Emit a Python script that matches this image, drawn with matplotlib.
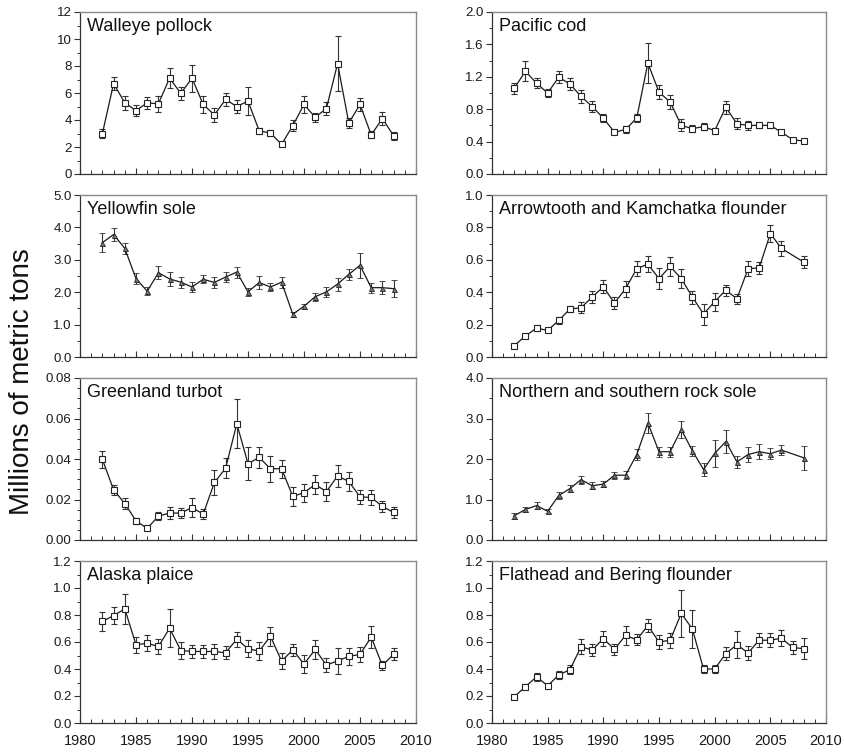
import matplotlib
matplotlib.use("Agg")
import matplotlib.pyplot as plt
from matplotlib.ticker import MultipleLocator, FormatStrFormatter
import numpy as np

plt.rcParams['font.family'] = ['Liberation Sans', 'DejaVu Sans']

years = list(range(1982, 2009))
years_no2007 = [y for y in years if y != 2007]

pollock = [3.0, 6.7, 5.27, 4.7, 5.27, 5.2, 7.1, 5.97, 7.1, 5.15, 4.38, 5.52, 5.0, 5.4,
           3.2, 3.03, 2.2, 3.58, 5.15, 4.2, 4.85, 8.18, 3.78, 5.15, 2.9, 4.1, 2.84]
pollock_err = [0.37, 0.45, 0.5, 0.4, 0.45, 0.6, 0.75, 0.5, 1.0, 0.65, 0.5, 0.47, 0.5, 1.05,
               0.2, 0.25, 0.15, 0.4, 0.6, 0.35, 0.45, 2.05, 0.4, 0.5, 0.25, 0.5, 0.3]

cod = [1.056, 1.27, 1.12, 1.0, 1.196, 1.11, 0.957, 0.833, 0.69, 0.515, 0.55, 0.69, 1.37, 1.01,
       0.89, 0.6, 0.56, 0.585, 0.535, 0.825, 0.62, 0.6, 0.6, 0.6, 0.515, 0.425, 0.405]
cod_err = [0.07, 0.125, 0.06, 0.05, 0.07, 0.07, 0.08, 0.07, 0.05, 0.025, 0.04, 0.05, 0.25, 0.09,
           0.085, 0.075, 0.04, 0.04, 0.035, 0.08, 0.07, 0.06, 0.03, 0.035, 0.01, 0.02, 0.01]

yellowfin = [3.53, 3.78, 3.35, 2.42, 2.03, 2.6, 2.41, 2.31, 2.16, 2.4, 2.3, 2.47, 2.62, 2.01,
             2.3, 2.16, 2.31, 1.32, 1.57, 1.86, 2.01, 2.25, 2.55, 2.83, 2.14, 2.14, 2.11]
yellowfin_err = [0.3, 0.2, 0.17, 0.17, 0.12, 0.2, 0.22, 0.17, 0.15, 0.13, 0.18, 0.15, 0.17, 0.13,
                 0.2, 0.12, 0.17, 0.07, 0.08, 0.12, 0.15, 0.2, 0.18, 0.38, 0.15, 0.2, 0.27]

arrowtooth = [0.07, 0.13, 0.178, 0.164, 0.226, 0.296, 0.304, 0.37, 0.433, 0.333, 0.422, 0.545,
              0.573, 0.484, 0.559, 0.484, 0.37, 0.265, 0.342, 0.412, 0.36, 0.545, 0.55, 0.762,
              0.67, 0.586]
arrowtooth_err = [0.005, 0.01, 0.02, 0.012, 0.02, 0.02, 0.035, 0.035, 0.04, 0.035, 0.05, 0.045,
                  0.05, 0.065, 0.06, 0.06, 0.04, 0.065, 0.055, 0.035, 0.03, 0.045, 0.035, 0.05,
                  0.045, 0.035]

turbot = [0.0398, 0.0248, 0.018, 0.0095, 0.0057, 0.0118, 0.0133, 0.0133, 0.016, 0.0128, 0.0284,
          0.0354, 0.0574, 0.0377, 0.0408, 0.0352, 0.0352, 0.0215, 0.0234, 0.0274, 0.0239,
          0.0316, 0.0289, 0.0213, 0.021, 0.0166, 0.0136]
turbot_err = [0.004, 0.0025, 0.0025, 0.0015, 0.0008, 0.002, 0.003, 0.0025, 0.0045, 0.0025, 0.006,
              0.005, 0.012, 0.008, 0.0052, 0.0065, 0.0045, 0.0045, 0.0045, 0.0048, 0.0048,
              0.0052, 0.0048, 0.0035, 0.0035, 0.0028, 0.0028]

rocksole = [0.6, 0.754, 0.85, 0.71, 1.1, 1.27, 1.49, 1.34, 1.38, 1.6, 1.6, 2.11, 2.89, 2.18,
            2.18, 2.73, 2.2, 1.74, 2.14, 2.43, 1.93, 2.11, 2.18, 2.13, 2.22, 2.03]
rocksole_err = [0.07, 0.07, 0.08, 0.05, 0.08, 0.08, 0.1, 0.08, 0.07, 0.09, 0.1, 0.13, 0.24, 0.12,
                0.12, 0.2, 0.12, 0.15, 0.33, 0.28, 0.15, 0.18, 0.18, 0.13, 0.13, 0.3]

plaice = [0.752, 0.796, 0.845, 0.58, 0.59, 0.567, 0.702, 0.537, 0.53, 0.53, 0.53, 0.52, 0.621,
          0.55, 0.532, 0.643, 0.458, 0.542, 0.436, 0.545, 0.429, 0.46, 0.493, 0.508, 0.636,
          0.426, 0.51]
plaice_err = [0.067, 0.065, 0.113, 0.06, 0.06, 0.055, 0.14, 0.06, 0.05, 0.05, 0.057, 0.048, 0.055,
              0.062, 0.068, 0.07, 0.06, 0.045, 0.065, 0.068, 0.052, 0.095, 0.065, 0.057, 0.08,
              0.03, 0.045]

flathead = [0.194, 0.269, 0.342, 0.276, 0.356, 0.395, 0.565, 0.54, 0.625, 0.545, 0.65, 0.616,
            0.722, 0.6, 0.613, 0.812, 0.696, 0.4, 0.4, 0.514, 0.58, 0.519, 0.613, 0.613, 0.628,
            0.56, 0.55]
flathead_err = [0.012, 0.02, 0.03, 0.015, 0.028, 0.035, 0.055, 0.045, 0.055, 0.042, 0.07, 0.04,
                0.05, 0.055, 0.055, 0.175, 0.142, 0.03, 0.03, 0.05, 0.1, 0.055, 0.05, 0.05, 0.06,
                0.05, 0.078]

panels = [
    # title, x, y, err, marker, ymax, major, minor, fmt
    ("Walleye pollock", years, pollock, pollock_err, 's', 12, 2, 1, '%d'),
    ("Pacific cod", years, cod, cod_err, 's', 2.0, 0.4, 0.2, '%.1f'),
    ("Yellowfin sole", years, yellowfin, yellowfin_err, '^', 5.0, 1.0, 0.5, '%.1f'),
    ("Arrowtooth and Kamchatka flounder", years_no2007, arrowtooth, arrowtooth_err, 's', 1.0, 0.2, 0.1, '%.1f'),
    ("Greenland turbot", years, turbot, turbot_err, 's', 0.08, 0.02, 0.005, '%.2f'),
    ("Northern and southern rock sole", years_no2007, rocksole, rocksole_err, '^', 4.0, 1.0, 0.5, '%.1f'),
    ("Alaska plaice", years, plaice, plaice_err, 's', 1.2, 0.2, 0.1, '%.1f'),
    ("Flathead and Bering flounder", years, flathead, flathead_err, 's', 1.2, 0.2, 0.1, '%.1f'),
]

W, H = 845, 752
fig = plt.figure(figsize=(W / 100, H / 100), dpi=100)

col_left = [80, 492]
col_width = [336, 334]
row_top = [12, 195, 378, 561]
row_h = 162

for i, (title, x, y, e, mk, ymax, major, minor, fmt) in enumerate(panels):
    r, c = divmod(i, 2)
    ax = fig.add_axes([col_left[c] / W, 1 - (row_top[r] + row_h) / H,
                       col_width[c] / W, row_h / H])
    if mk == 's':
        ax.errorbar(x, y, yerr=e, fmt='-', color='#1a1a1a', lw=0.9, elinewidth=0.8,
                    ecolor='#333333', capsize=2.3, capthick=0.8, marker='s', ms=4,
                    mfc='white', mec='#222222', mew=0.8)
    else:
        ax.errorbar(x, y, yerr=e, fmt='-', color='#1a1a1a', lw=0.9, elinewidth=0.8,
                    ecolor='#333333', capsize=2.3, capthick=0.8, marker='^', ms=3.6,
                    mfc='#777777', mec='#222222', mew=0.6)
    ax.set_xlim(1980, 2010)
    ax.set_ylim(0, ymax)
    ax.xaxis.set_major_locator(MultipleLocator(5))
    ax.xaxis.set_minor_locator(MultipleLocator(1))
    ax.yaxis.set_major_locator(MultipleLocator(major))
    ax.yaxis.set_minor_locator(MultipleLocator(minor))
    ax.yaxis.set_major_formatter(FormatStrFormatter(fmt))
    ax.tick_params(axis='y', which='major', direction='out', length=4, width=0.8,
                   labelsize=9.5, pad=2, color='#333333', labelcolor='#1a1a1a')
    ax.tick_params(axis='y', which='minor', direction='out', length=2.5, width=0.7,
                   color='#333333')
    ax.tick_params(axis='x', which='major', direction='in', length=4, width=0.8,
                   labelsize=10.5, pad=8, color='#333333', labelcolor='#1a1a1a')
    ax.tick_params(axis='x', which='minor', direction='in', length=3, width=0.7,
                   color='#333333')
    if r < 3:
        ax.tick_params(axis='x', labelbottom=False)
    for side in ('left', 'bottom'):
        ax.spines[side].set_color('#333333')
        ax.spines[side].set_linewidth(0.9)
    for side in ('top', 'right'):
        ax.spines[side].set_color('#8a8a8a')
        ax.spines[side].set_linewidth(1.0)
    ax.text(0.02, 0.965, title, transform=ax.transAxes, ha='left', va='top',
            fontsize=13, color='#111111')

fig.text(22 / W, 1 - 382 / H, "Millions of metric tons", rotation=90,
         ha='center', va='center', fontsize=20, color='#111111')

fig.savefig("out.png", dpi=100)
